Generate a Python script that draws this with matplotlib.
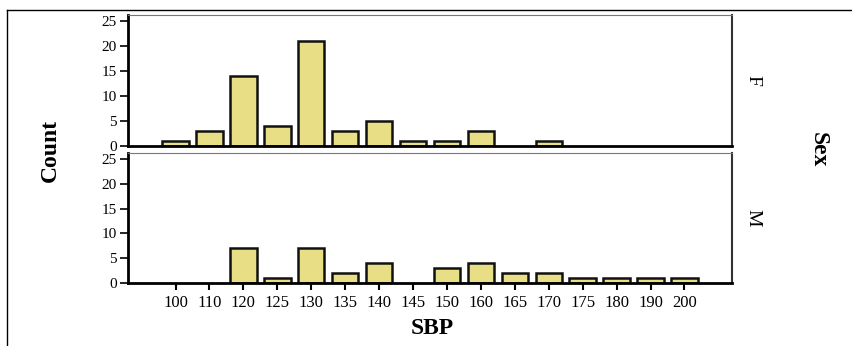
import matplotlib.pyplot as plt
import numpy as np
from matplotlib.lines import Line2D

# SBP categories and counts per sex
sbp = ['100', '110', '120', '125', '130', '135', '140', '145',
       '150', '160', '165', '170', '175', '180', '190', '200']
count_f = [1, 3, 14, 4, 21, 3, 5, 1, 1, 3, 0, 1, 0, 0, 0, 0]
count_m = [0, 0, 7, 1, 7, 2, 4, 0, 3, 4, 2, 2, 1, 1, 1, 1]
sexes = ['F', 'M']
yticks = [0, 5, 10, 15, 20, 25]

plt.rcParams['font.family'] = ['Liberation Serif', 'DejaVu Serif']

fig = plt.figure(figsize=(8.53, 3.46), dpi=100)
W, H = 853, 346
left, right = 128 / W, 732 / W
panels = [(15, 146), (153, 283)]  # top, bottom in pixels

x = np.arange(len(sbp))
axes = []
for (top_px, bot_px), sex, counts in zip(panels, sexes, [count_f, count_m]):
    ax = fig.add_axes([left, 1 - bot_px / H, right - left, (bot_px - top_px) / H])
    counts = np.array(counts)
    keep = counts > 0  # empty categories get no bar
    ax.bar(x[keep], counts[keep], width=0.78, color='#e8de85',
           edgecolor='#111111', linewidth=1.8, zorder=2)
    ax.set_xlim(-1.4, len(sbp) - 1 + 1.4)
    ax.set_ylim(0, 26.2)
    ax.set_yticks(yticks)
    ax.tick_params(axis='y', direction='out', length=6, width=1.2, labelsize=11,
                   pad=2)
    for s in ['left', 'bottom']:
        ax.spines[s].set_linewidth(2)
    ax.spines['top'].set_color('#777777')
    ax.spines['right'].set_color('#333333')
    ax.spines['right'].set_linewidth(1.5)
    ax.text(1.035, 0.5, sex, transform=ax.transAxes, rotation=-90,
            ha='center', va='center', fontsize=14)
    axes.append(ax)

axes[0].set_xticks([])
axes[1].set_xticks(x)
axes[1].set_xticklabels(sbp)
axes[1].tick_params(axis='x', direction='out', length=5, width=1.5, labelsize=12)

fig.text(50 / W, 1 - 150 / H, 'Count', rotation=90, ha='center', va='center',
         fontsize=17, fontweight='bold')
fig.text(432 / W, 1 - 328 / H, 'SBP', ha='center', va='center',
         fontsize=17, fontweight='bold')
fig.text(818 / W, 1 - 150 / H, 'Sex', rotation=-90, ha='center', va='center',
         fontsize=17, fontweight='bold')

# outer frame lines (top and left)
fig.add_artist(Line2D([7 / W, 1], [1 - 10 / H, 1 - 10 / H], color='black', linewidth=1))
fig.add_artist(Line2D([7 / W, 7 / W], [0, 1 - 10 / H], color='black', linewidth=1))

fig.savefig('out.png', dpi=100)
